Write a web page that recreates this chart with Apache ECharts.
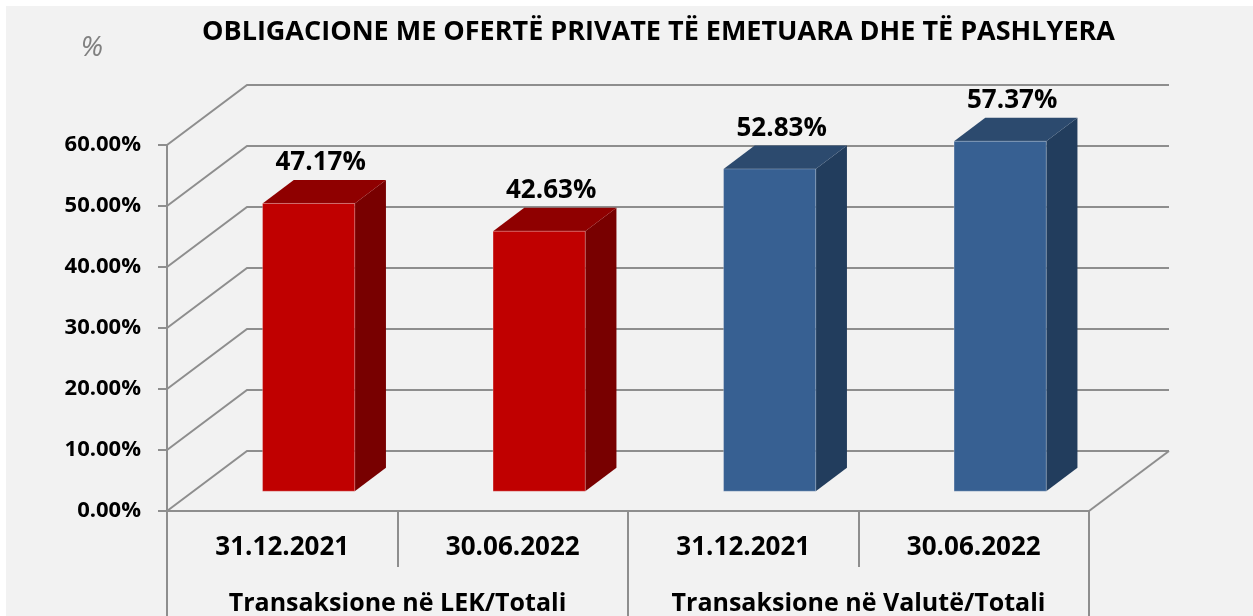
<!DOCTYPE html>
<html>
<head>
<meta charset="utf-8">
<script src="https://cdn.jsdelivr.net/npm/echarts@6/dist/echarts.min.js"></script>
<style>
  html, body { margin: 0; padding: 0; background: #fff; }
  #main { position: absolute; left: 6px; top: 6px; width: 1247px; height: 610px; }
</style>
</head>
<body>
<div id="main"></div>
<script>
// data
const dates = ['31.12.2021', '30.06.2022', '31.12.2021', '30.06.2022'];
const groups = ['Transaksione në LEK/Totali', 'Transaksione në Valutë/Totali'];
const lekValues = [47.17, 42.63];
const valuteValues = [52.83, 57.37];
const yTicks = [0, 10, 20, 30, 40, 50, 60];

// 3d look
const DX = 80, DY = -60;      // depth of the box
const T0 = 0.33, T1 = 0.72;   // where the bars sit in depth
const LINE = '#8e8e8e';
const FONT = '"Open Sans", sans-serif';

// back wall gridlines + left wall diagonals + floor
function wallItem(params, api) {
    const cs = params.coordSys;
    const v = api.value(1);
    const y = api.coord([0, v])[1];
    const x0 = cs.x, x1 = cs.x + cs.width;
    const style = { stroke: LINE, lineWidth: 2, fill: null };
    const children = [
        { type: 'polyline', shape: { points: [[x0, y], [x0 + DX, y + DY], [x1 + DX, y + DY]] }, style: style }
    ];
    if (v === 0) {
        children.push({ type: 'line', shape: { x1: x1, y1: y, x2: x1 + DX, y2: y + DY }, style: style });
    }
    return { type: 'group', children: children };
}

function barItem(colors) {
    return function (params, api) {
        const idx = api.value(0), val = api.value(1);
        const base = api.coord([idx, 0]);
        const top = api.coord([idx, val]);
        const w = api.size([1, 0])[0] * 0.4;
        const ox = DX * T0, oy = DY * T0;
        const dx = DX * (T1 - T0), dy = DY * (T1 - T0);
        const xl = base[0] - w / 2 + ox, xr = base[0] + w / 2 + ox;
        const yb = base[1] + oy, yt = top[1] + oy;
        return {
            type: 'group',
            children: [
                { type: 'polygon', shape: { points: [[xr, yb], [xr + dx, yb + dy], [xr + dx, yt + dy], [xr, yt]] },
                  style: { fill: colors.side } },
                { type: 'polygon', shape: { points: [[xl, yt], [xr, yt], [xr + dx, yt + dy], [xl + dx, yt + dy]] },
                  style: { fill: colors.top } },
                { type: 'rect', shape: { x: xl, y: yt, width: w, height: yb - yt },
                  style: { fill: colors.front, stroke: 'rgba(255,255,255,0.25)', lineWidth: 1 } },
                { type: 'text', style: {
                    text: val.toFixed(2) + '%', x: base[0] + ox + 12, y: yt + dy - 17,
                    align: 'center', verticalAlign: 'middle',
                    font: 'bold 26px ' + FONT, fill: '#000' } }
            ]
        };
    };
}

const chart = echarts.init(document.getElementById('main'));
const axisLine = { color: LINE, width: 2 };

const option = {
    backgroundColor: '#f2f2f2',
    animation: false,
    title: {
        text: 'OBLIGACIONE ME OFERTË PRIVATE TË EMETUARA DHE TË PASHLYERA',
        left: 191, top: 8,
        textStyle: { fontSize: 27, fontWeight: 'bold', fontFamily: FONT, color: '#000' }
    },
    graphic: [
        { type: 'text', x: 86, y: 42, style: {
            text: '%', align: 'center', verticalAlign: 'middle',
            font: 'italic 28px ' + FONT, fill: '#808080' } }
    ],
    grid: { left: 161, right: 164, top: 139, bottom: 105 },
    xAxis: [
        {
            type: 'category', data: dates, position: 'bottom',
            axisLine: { lineStyle: axisLine },
            axisTick: { show: true, length: 56, interval: 0, lineStyle: axisLine },
            axisLabel: { interval: 0, margin: 24, color: '#000', fontSize: 26, fontWeight: 'bold', fontFamily: FONT }
        },
        {
            type: 'category', data: groups, position: 'bottom',
            axisLine: { show: false },
            axisTick: { show: true, length: 120, interval: 0, lineStyle: axisLine },
            axisLabel: { interval: 0, margin: 80, color: '#000', fontSize: 25, fontWeight: 'bold', fontFamily: FONT }
        }
    ],
    yAxis: {
        type: 'value', min: 0, max: 60, interval: 10,
        axisLine: { show: true, lineStyle: axisLine },
        axisTick: { show: true, length: 9, lineStyle: axisLine },
        splitLine: { show: false },
        axisLabel: {
            margin: 26, color: '#000', fontSize: 22, fontWeight: 'bold', fontFamily: FONT,
            formatter: v => v.toFixed(2) + '%'
        }
    },
    series: [
        {
            type: 'custom', name: 'walls', z: 1, silent: true,
            renderItem: wallItem,
            encode: { x: 0, y: 1 },
            data: yTicks.map(v => [0, v])
        },
        {
            type: 'custom', name: 'LEK', z: 2,
            renderItem: barItem({ front: '#c00000', top: '#8f0000', side: '#780000' }),
            encode: { x: 0, y: 1 },
            data: lekValues.map((v, i) => [i, v])
        },
        {
            type: 'custom', name: 'Valutë', z: 2,
            renderItem: barItem({ front: '#376092', top: '#2c4a6e', side: '#223d5d' }),
            encode: { x: 0, y: 1 },
            data: valuteValues.map((v, i) => [i + 2, v])
        }
    ]
};
chart.setOption(option);
</script>
</body>
</html>
